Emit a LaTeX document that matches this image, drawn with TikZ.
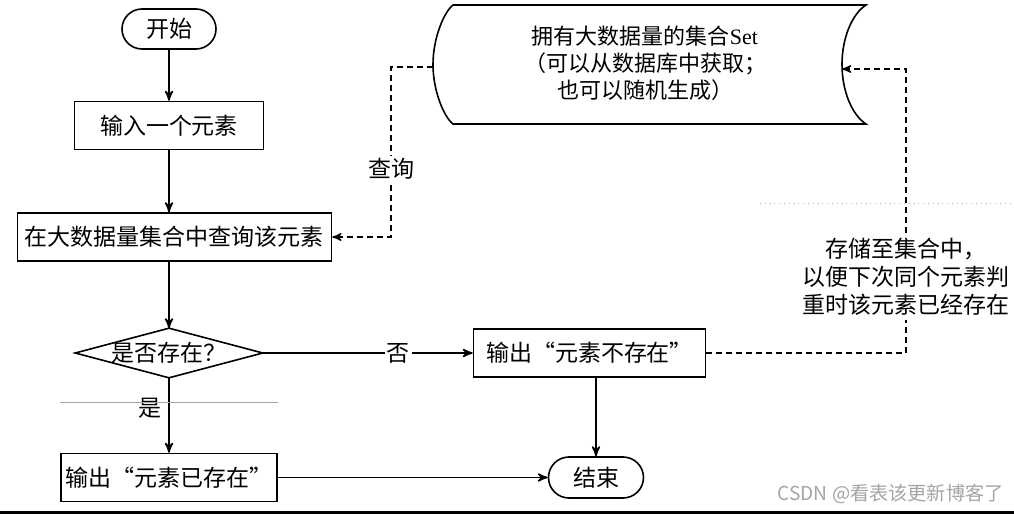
\documentclass[tikz,border=0pt]{standalone}
\usepackage{fontspec}
\setmainfont{Liberation Serif}
\newfontfamily\cjk{Noto Sans CJK SC}
\usepackage{tikz}
\usetikzlibrary{shapes.misc}
\usetikzlibrary{positioning}
\usetikzlibrary{arrows}

\begin{document}
\begin{tikzpicture}[x=0.5pt,y=-0.5pt,->,>=stealth',thick,
	font=\cjk\fontsize{11.5}{14}\selectfont,
	term node/.style={rounded rectangle,draw,inner sep=0pt,minimum height=20pt},
	proc node/.style={rectangle,draw,inner sep=0pt,minimum height=24pt},
	dec node/.style={rectangle,inner sep=0pt,minimum width=93pt,minimum height=24pt},
	link/.style={line width=0.7pt,dash pattern=on 3pt off 2pt}]
	
	\definecolor{wmgray}{RGB}{165,165,165}
	
	\path[use as bounding box,fill=white] (0,0) rectangle (1014,514);
	
	% main column
	\node[term node, minimum width=47pt] (start) at (169,29) {开始};
	\node[proc node, minimum width=94.5pt, node distance=48.25pt, below of=start] (input) {输入一个元素};
	\node[proc node, minimum width=157pt, node distance=55.75pt, below of=input, xshift=2.75pt] (query) {在大数据量集合中查询该元素};
	\node[dec node, node distance=113.75pt, below of=input] (dec) {是否存在？};
	\node[proc node, minimum width=108pt, node distance=62.25pt, below of=dec] (exist) {输出“元素已存在”};
	\node[proc node, minimum width=116pt, node distance=210.25pt, right of=dec] (notex) {输出“元素不存在”};
	\node[term node, minimum width=47.5pt, minimum height=20.5pt, node distance=213.5pt, right of=exist] (end) {结束};
	\draw[-] (dec.west) -- (dec.north) -- (dec.east) -- (dec.south) -- cycle;
	
	% data set
	\draw[-] (453,5) -- (866,5) .. controls (852,14) and (842,38) .. (842,64.5)
	.. controls (842,91) and (852,115) .. (866,124) -- (453,124)
	.. controls (444,117) and (433,91) .. (433,64.5)
	.. controls (433,38) and (444,12) .. (453,5) -- cycle;
	\node[font=\cjk\fontsize{11}{13.5}\selectfont, align=center] (store) at (645,63)
	{拥有大数据量的集合{\rmfamily Set}\\（可以从数据库中获取；\\也可以随机生成）};
	\coordinate (storeL) at (433,67);
	\coordinate (storeR) at (842,69);
	\coordinate (qturn) at (391,237);
	\coordinate (sturn) at (906,69);
	
	\path
	(start) edge (input)
	(input) edge (input |- query.north)
	(input |- query.south) edge (dec.north)
	(dec) edge node [pos=0.41, left=0pt] {是} (exist)
	(dec.east) edge node [pos=0.645, fill=white, inner sep=1pt] {否} (notex)
	(exist) edge (end)
	(end |- notex.south) edge (end);
	
	\draw[link] (storeL) -| node [pos=0.8, fill=white, inner sep=1pt] {查询} (qturn) -- (query.east);
	\draw[link] (notex.east) -| node [pos=0.634, fill=white, align=center, inner sep=2pt]
	{存储至集合中，\\以便下次同个元素判\\重时该元素已经存在} (sturn) -- (storeR);
	
	% scan marks
	\draw[-, thin, gray!70] (60,402) -- (278,402);
	\draw[-, thin, gray!60, dotted] (760,203) -- (1012,203);
	\fill[black] (0,511) rectangle (1014,514);
	\node[text=wmgray, font=\cjk\fontsize{9.6}{12}\selectfont, anchor=west] (mark) at (770,494) {CSDN @看表该更新博客了};
\end{tikzpicture}
\end{document}
